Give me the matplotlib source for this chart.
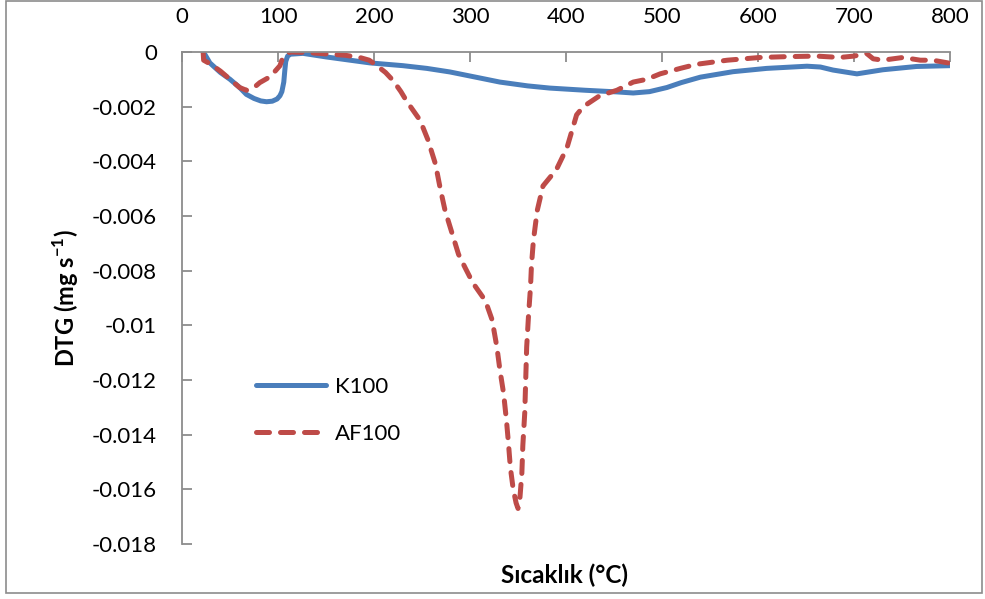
import matplotlib.pyplot as plt
from matplotlib.patches import Rectangle

plt.rcParams['font.family'] = ['Lato', 'DejaVu Sans']
plt.rcParams['mathtext.fontset'] = 'custom'
plt.rcParams['mathtext.rm'] = 'Lato'
plt.rcParams['mathtext.bf'] = 'Lato:bold'

# K100 (blue, solid)
k100_t = [22, 24, 29, 40, 50, 60, 67, 75, 82, 88, 94, 99, 102, 104, 106, 107,
          108, 110, 113, 126, 150, 175, 196, 230, 255, 279, 310, 331, 360, 383,
          420, 453, 470, 487, 505, 520, 540, 574, 609, 651, 665, 678, 703, 730,
          765, 800]
k100_dtg = [0, -0.1, -0.4, -0.75, -1.0, -1.3, -1.55, -1.7, -1.79, -1.82, -1.8,
            -1.72, -1.6, -1.45, -1.1, -0.7, -0.35, -0.15, -0.08, -0.05, -0.18,
            -0.3, -0.4, -0.5, -0.6, -0.73, -0.95, -1.1, -1.24, -1.32, -1.4,
            -1.46, -1.5, -1.45, -1.3, -1.12, -0.92, -0.72, -0.6, -0.52, -0.55,
            -0.66, -0.8, -0.65, -0.53, -0.5]

# AF100 (red, dashed)
af100_t = [22, 22.5, 30, 40, 50, 60, 67, 75, 81, 92, 102, 105, 110, 113, 130,
           154, 170, 185, 195, 203, 212, 220, 228, 234, 242, 248, 256, 264, 269,
           274, 281, 288, 295, 303, 310, 316, 323, 328, 331, 335, 338, 340, 342,
           345, 348, 350, 352, 354, 355, 357, 358, 359, 361, 363, 364, 366, 370,
           376, 383, 390, 401, 411, 418, 435, 453, 470, 484, 498, 519, 536, 568,
           602, 630, 661, 685, 700, 713, 720, 730, 751, 769, 782, 798]
af100_dtg = [0, -0.3, -0.45, -0.7, -1.0, -1.3, -1.4, -1.3, -1.12, -0.9, -0.5,
             -0.2, -0.05, 0, -0.02, -0.08, -0.12, -0.2, -0.3, -0.5, -0.75, -1.05,
             -1.45, -1.8, -2.2, -2.5, -3.2, -4.1, -5.0, -5.8, -6.6, -7.4, -7.9,
             -8.45, -8.8, -9.1, -9.8, -10.8, -11.6, -12.5, -13.5, -14.3, -15.2,
             -16.0, -16.5, -16.7, -16.3, -15.4, -14.4, -13.2, -12.0, -10.8, -9.6,
             -8.6, -7.8, -6.9, -5.8, -4.9, -4.6, -4.3, -3.5, -2.3, -2.0, -1.6,
             -1.4, -1.1, -1.0, -0.8, -0.6, -0.45, -0.3, -0.2, -0.17, -0.15, -0.2,
             -0.15, -0.05, -0.25, -0.3, -0.2, -0.3, -0.3, -0.4]

x_ticks = [0, 100, 200, 300, 400, 500, 600, 700, 800]
y_ticks = [0, -0.002, -0.004, -0.006, -0.008, -0.01, -0.012, -0.014, -0.016, -0.018]
y_ticklabels = ['0', '-0.002', '-0.004', '-0.006', '-0.008', '-0.01', '-0.012',
                '-0.014', '-0.016', '-0.018']

fig = plt.figure(figsize=(9.85, 5.99), dpi=100)
ax = fig.add_axes([0.1848, 0.0918, 0.7797, 0.8214])

ax.plot(k100_t, [v / 1000 for v in k100_dtg], color='#4A7EBB', lw=3.6,
        solid_capstyle='round', solid_joinstyle='round', label='K100')
ax.plot(af100_t, [v / 1000 for v in af100_dtg], color='#BE4B48', lw=3.6,
        dashes=(2.6, 2.2), dash_capstyle='round', dash_joinstyle='round',
        label='AF100')

ax.set_xlim(0, 800)
ax.set_ylim(-0.018, 0)
ax.set_xticks(x_ticks)
ax.set_yticks(y_ticks)
ax.set_yticklabels(y_ticklabels)

ax.xaxis.tick_top()
for s in ['bottom', 'right']:
    ax.spines[s].set_visible(False)
for s in ['top', 'left']:
    ax.spines[s].set_color('#8c8c8c')
    ax.spines[s].set_linewidth(1.3)
ax.tick_params(axis='both', direction='in', length=7, width=1.3, color='#8c8c8c',
               labelsize=16, pad=18)

ax.set_ylabel(r'DTG (mg s$^{\mathbf{-1}}$)', fontsize=17, fontweight='bold')
ax.yaxis.set_label_coords(-0.131, 0.5)
fig.text(0.5736, 0.04, 'Sıcaklık (°C)', fontsize=17.5, fontweight='bold',
         ha='center', va='center')

ax.legend(loc='upper left', bbox_to_anchor=(0.07, 0.38), frameon=False,
          fontsize=16, handlelength=3.15, labelspacing=1.2, handletextpad=0.4)

fig.patches.append(Rectangle((0.006, 0.01), 0.991, 0.988, transform=fig.transFigure,
                             fill=False, edgecolor='#8c8c8c', lw=1.2))

fig.savefig('out.png', dpi=100)
